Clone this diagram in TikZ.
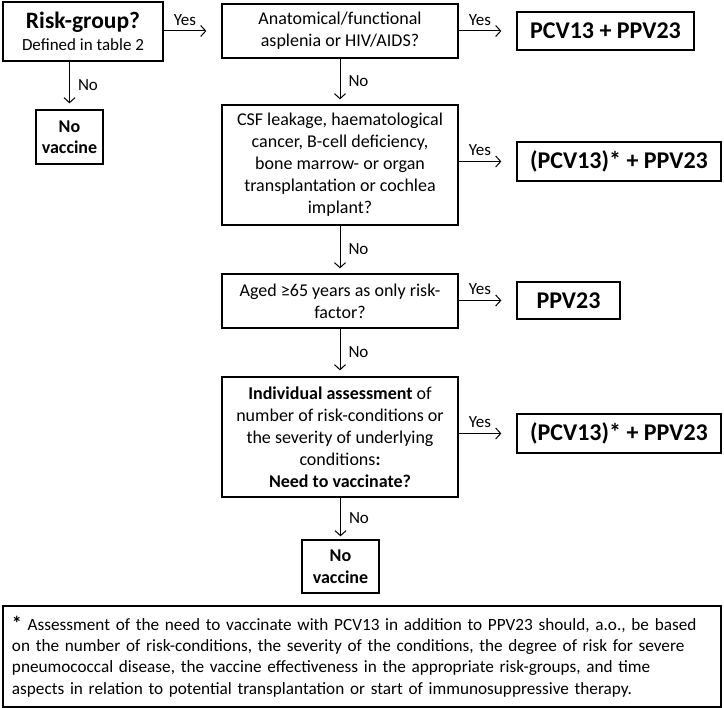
\documentclass[tikz,border=0pt]{standalone}
\usepackage{fontspec}
\setmainfont{Carlito}
\usetikzlibrary{arrows.meta,positioning,calc}

\begin{document}
\begin{tikzpicture}[x=1pt, y=-1pt,
            box/.style={draw, line width=1.3pt, align=center, inner sep=2pt,
                        font=\fontsize{18}{22}\selectfont},
            result/.style={box, font=\fontsize{24}{26}\selectfont\bfseries},
            novac/.style={box, font=\fontsize{18}{21.5}\selectfont\bfseries},
            flow/.style={draw, line width=1pt, -{Straight Barb[length=5pt,width=11pt]}},
            yes/.style={font=\fontsize{17}{20}\selectfont, inner sep=3pt, above, yshift=2pt, pos=0.37},
            no/.style={font=\fontsize{17}{20}\selectfont, inner sep=3pt, right, xshift=5pt}]
  \useasboundingbox (0,0) rectangle (724,708);

  \node[box, minimum width=160pt, minimum height=59pt] (risk) at (83,31.5)
     {{\fontsize{23.5}{27}\selectfont\bfseries Risk-group?}\\{\fontsize{17}{20}\selectfont Defined in table 2}};
  \node[box, minimum width=236pt, minimum height=54pt] (anat) at (340,31)
     {Anatomical/functional\\asplenia or HIV/AIDS?};
  \node[result, minimum width=177pt, minimum height=38pt] (pcv) at (605.5,31)
     {PCV13 + PPV23};
  \node[novac, minimum width=67pt, minimum height=54pt] (novacA) at (69.5,137)
     {No\\vaccine};
  \node[box, minimum width=236pt, minimum height=120pt] (csf) at (340,165)
     {CSF leakage, haematological\\cancer, B-cell deficiency,\\bone marrow- or organ\\transplantation or cochlea\\implant?};
  \node[result, minimum width=204pt, minimum height=39pt] (pcvstarA) at (619,161.5)
     {(PCV13)* + PPV23};
  \node[box, minimum width=236pt, minimum height=54pt] (aged) at (340,301)
     {Aged ≥65 years as only risk-\\factor?};
  \node[result, minimum width=103pt, minimum height=37pt] (ppv) at (568.5,300.5)
     {PPV23};
  \node[box, minimum width=236pt, minimum height=120pt] (indiv) at (340,437)
     {\textbf{Individual assessment} of\\number of risk-conditions or\\the severity of underlying\\conditions\textbf{:}\\\textbf{Need to vaccinate?}};
  \node[result, minimum width=204pt, minimum height=39pt] (pcvstarB) at (619,433.5)
     {(PCV13)* + PPV23};
  \node[novac, minimum width=77pt, minimum height=53pt] (novacB) at (340.5,566.5)
     {No\\vaccine};
  \node[box, minimum width=718pt, minimum height=101pt, text width=700pt, align=left,
        font=\fontsize{17.2}{21.3}\selectfont] (note) at (362,656.5)
     {{\fontsize{20}{20}\selectfont\bfseries *} Assessment of the need to vaccinate with PCV13 in addition to PPV23 should, a.o., be based\\
      on the number of risk-conditions, the severity of the conditions, the degree of risk for severe\\
      pneumococcal disease, the vaccine effectiveness in the appropriate risk-groups, and time\\
      aspects in relation to potential transplantation or start of immunosuppressive therapy.};

  \draw[flow, shorten >=15pt] (risk.east |- anat.west) -- node[yes]{Yes} (anat.west);
  \draw[flow, shorten >=15pt] (anat.east) -- node[yes]{Yes} (anat.east -| pcv.west);
  \draw[flow, shorten >=15pt] (csf.east |- pcvstarA.west) -- node[yes]{Yes} (pcvstarA.west);
  \draw[flow, shorten >=15pt] (aged.east |- ppv.west) -- node[yes]{Yes} (ppv.west);
  \draw[flow, shorten >=15pt] (indiv.east |- pcvstarB.west) -- node[yes]{Yes} (pcvstarB.west);
  \draw[flow, shorten >=6pt] (novacA.north |- risk.south) -- node[no]{No} (novacA.north);
  \draw[flow, shorten >=5pt] (anat.south) -- node[no]{No} (csf.north);
  \draw[flow, shorten >=5pt] (csf.south) -- node[no]{No} (aged.north);
  \draw[flow, shorten >=6pt] (aged.south) -- node[no]{No} (indiv.north);
  \draw[flow, shorten >=3pt] (indiv.south -| novacB.north) -- node[no]{No} (novacB.north);
\end{tikzpicture}
\end{document}
